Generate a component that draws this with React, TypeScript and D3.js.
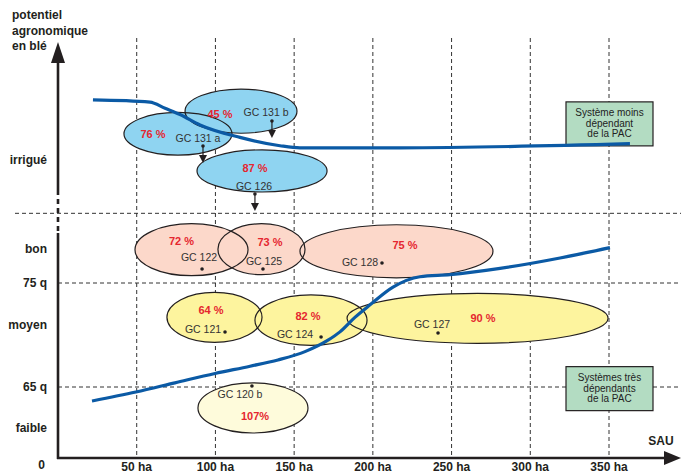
import { useEffect, useRef } from 'react';
import * as d3 from 'd3';

// SAU (ha) gridlines and tick labels
const sauTicks = [50, 100, 150, 200, 250, 300, 350];
const sauTickLabels = ['50 ha', '100 ha', '150 ha', '200 ha', '250 ha', '300 ha', '350 ha'];

// potentiel (q) reference lines
const potentielRefs = [65, 75];
const irrigueLimit = 81.7;

// y labels: [text, q]
const yLabelTexts = ['irrigué', 'bon', '75 q', 'moyen', '65 q', 'faible'];
const yLabelLevels = [86.8, 78.3, 75, 71, 65, 27.5];

// curves (ha, q)
const curveMoinsSau = [22.2, 58.4, 68.0, 77.5, 90.2, 115.6, 141.0, 153.7, 217.2, 363.3];
const curveMoinsQ = [92.6, 92.4, 91.8, 91.2, 90.2, 89.0, 88.2, 88.0, 88.0, 88.4];
const curveTresSau = [21.6, 49.5, 74.3, 99.7, 122.0, 139.7, 156.9, 171.5, 179.1, 188.6, 198.2, 212.8, 229.9, 249.0, 280.8, 318.9, 350.6];
const curveTresQ = [52.2, 60.4, 65.4, 66.3, 67.0, 67.6, 68.4, 69.5, 70.3, 71.7, 72.9, 74.6, 75.6, 75.8, 76.4, 77.4, 78.4];

// groupes de cas (GC)
const gcNames = ['GC 131 a', 'GC 131 b', 'GC 126', 'GC 122', 'GC 125', 'GC 128', 'GC 121', 'GC 124', 'GC 127', 'GC 120 b'];
const gcPct = ['76 %', '45 %', '87 %', '72 %', '73 %', '75 %', '64 %', '82 %', '90 %', '107%'];
const gcSauMin = [41.9, 80.7, 88.3, 48.9, 101.6, 153.7, 69.2, 125.1, 183.6, 88.9];
const gcSauMax = [110.5, 151.8, 170.9, 120.7, 156.9, 276.3, 129.6, 196.3, 349.4, 158.8];
const gcQMin = [87.3, 89.4, 83.75, 75.7, 75.8, 75.5, 69.3, 69.0, 69.2, 22.9];
const gcQMax = [91.4, 93.65, 87.8, 80.7, 80.7, 80.6, 74.1, 73.85, 74.0, 65.4];
const gcPointSau = [92.1, 135.9, 125.1, 91.5, 130.2, 205.8, 106.1, 167.1, 241.4, 123.2];
const gcPointQ = [88.17, 90.58, 83.56, 76.35, 76.35, 76.92, 70.29, 69.81, 70.19, 65.1];
const gcGroup = ['irr', 'irr', 'irr', 'bon', 'bon', 'bon', 'moy', 'moy', 'moy', 'fai'];
const gcArrow = [true, true, true, false, false, false, false, false, false, false];

// label layout (pixel offsets from ellipse centre)
const pctOffset: [number, number][] = [[-25, 0], [-21, 3], [-7, -3], [-10, -9], [8.5, -7.5], [8.5, -6.5], [-3.5, -7], [-3, -4], [5.5, 0], [2, 8]];
const nameOffset: [number, number][] = [[20, 4.5], [25, 1], [-8, 15], [7.5, 8], [2.5, 12.5], [-36.5, 11.5], [-11.5, 12], [-16, 14], [-45.5, 6], [-13, -14]];

const groupFill: Record<string, string> = {
    irr: '#8fd4f1',
    bon: '#fcd8ca',
    moy: '#fdf49e',
    fai: '#fefbdb',
};

const boxLines = [
    ['Système moins', 'dépendant', 'de la PAC'],
    ['Systèmes très', 'dépendants', 'de la PAC'],
];
const boxLevels = [90.3, 63.5];

export default function App() {
    const svgRef = useRef<SVGSVGElement>(null);

    useEffect(() => {
        if (!svgRef.current) return;
        document.body.style.margin = '0';
        const W = 681;
        const H = 475;
        const svg = d3.select(svgRef.current);
        svg.selectAll('*').remove();
        svg.attr('width', W).attr('height', H)
            .style('font-family', '"Liberation Sans", Arial, sans-serif');

        const x = d3.scaleLinear().domain([0, 350]).range([58, 609]);
        // schematic potential axis
        const y = d3.scaleLinear().domain([0, 65, 75]).range([458, 387, 283]);

        const ink = '#231f20';

        // grid
        const grid = svg.append('g').attr('stroke', '#333').attr('stroke-width', 1).attr('stroke-dasharray', '4,3');
        grid.selectAll('line.v').data(sauTicks).enter().append('line')
            .attr('x1', d => x(d)).attr('x2', d => x(d))
            .attr('y1', 38).attr('y2', 458);
        grid.selectAll('line.h').data(potentielRefs).enter().append('line')
            .attr('x1', 58).attr('x2', W)
            .attr('y1', d => y(d)).attr('y2', d => y(d));
        grid.append('line').attr('x1', 15).attr('x2', W)
            .attr('y1', y(irrigueLimit)).attr('y2', y(irrigueLimit));

        // boxes
        boxLines.forEach((lines, i) => {
            const cy = y(boxLevels[i]);
            const g = svg.append('g');
            g.append('rect').attr('x', 566).attr('y', cy - 22).attr('width', 87).attr('height', 44)
                .attr('fill', '#b3dcc2').attr('stroke', ink).attr('stroke-width', 1.2);
            lines.forEach((t, j) => {
                g.append('text').attr('x', 609.5).attr('y', cy - 11 + j * 10.5).attr('dy', '0.35em')
                    .attr('text-anchor', 'middle').attr('font-size', 10).attr('fill', '#222').text(t);
            });
        });

        // ellipses
        const gc = gcNames.map((name, i) => {
            const x0 = x(gcSauMin[i]);
            const x1 = x(gcSauMax[i]);
            const y0 = y(gcQMax[i]);
            const y1 = y(gcQMin[i]);
            return { name, i, cx: (x0 + x1) / 2, cy: (y0 + y1) / 2, rx: (x1 - x0) / 2, ry: (y1 - y0) / 2 };
        });

        svg.append('g').selectAll('ellipse').data(gc).enter().append('ellipse')
            .attr('cx', d => d.cx).attr('cy', d => d.cy).attr('rx', d => d.rx).attr('ry', d => d.ry)
            .attr('fill', d => groupFill[gcGroup[d.i]]);
        svg.append('g').selectAll('ellipse').data(gc).enter().append('ellipse')
            .attr('cx', d => d.cx).attr('cy', d => d.cy).attr('rx', d => d.rx).attr('ry', d => d.ry)
            .attr('fill', 'none').attr('stroke', ink).attr('stroke-width', 1.2);

        // points + arrows
        gc.forEach(d => {
            const px = x(gcPointSau[d.i]);
            const py = y(gcPointQ[d.i]);
            if (gcArrow[d.i]) {
                const len = 17;
                svg.append('line').attr('x1', px).attr('x2', px).attr('y1', py).attr('y2', py + len - 6)
                    .attr('stroke', ink).attr('stroke-width', 1.2);
                svg.append('path')
                    .attr('d', `M${px - 4},${py + len - 8}L${px + 4},${py + len - 8}L${px},${py + len}Z`)
                    .attr('fill', ink);
            }
            svg.append('circle').attr('cx', px).attr('cy', py).attr('r', 1.8).attr('fill', ink);
        });

        // labels
        const labels = svg.append('g');
        gc.forEach(d => {
            labels.append('text')
                .attr('x', d.cx + pctOffset[d.i][0]).attr('y', d.cy + pctOffset[d.i][1]).attr('dy', '0.35em')
                .attr('text-anchor', 'middle').attr('font-size', 11).attr('font-weight', 'bold')
                .attr('fill', '#e5262f').text(gcPct[d.i]);
            labels.append('text')
                .attr('x', d.cx + nameOffset[d.i][0]).attr('y', d.cy + nameOffset[d.i][1]).attr('dy', '0.35em')
                .attr('text-anchor', 'middle').attr('font-size', 10.5)
                .attr('fill', '#333').text(d.name);
        });

        // curves
        const line = d3.line<[number, number]>()
            .x(d => x(d[0])).y(d => y(d[1]))
            .curve(d3.curveMonotoneX);
        const curves = [
            d3.zip(curveMoinsSau, curveMoinsQ) as [number, number][],
            d3.zip(curveTresSau, curveTresQ) as [number, number][],
        ];
        svg.append('g').selectAll('path').data(curves).enter().append('path')
            .attr('d', d => line(d))
            .attr('fill', 'none').attr('stroke', '#0b5aa5').attr('stroke-width', 3.2)
            .attr('stroke-linecap', 'butt');

        // axes
        const axes = svg.append('g').attr('stroke', ink).attr('stroke-width', 2.6);
        axes.append('line').attr('x1', 58).attr('x2', 58).attr('y1', 62).attr('y2', 190);
        axes.append('line').attr('x1', 58).attr('x2', 58).attr('y1', 190).attr('y2', 233)
            .attr('stroke-dasharray', '5,4');
        axes.append('line').attr('x1', 58).attr('x2', 58).attr('y1', 233).attr('y2', 459);
        axes.append('line').attr('x1', 57).attr('x2', 666).attr('y1', 458).attr('y2', 458);
        svg.append('path').attr('d', 'M58,42L51,63L65,63Z').attr('fill', ink);
        svg.append('path').attr('d', 'M681,458L664,451L664,465Z').attr('fill', ink);

        // tick labels
        svg.append('g').selectAll('text').data(sauTicks).enter().append('text')
            .attr('x', d => x(d)).attr('y', 467).attr('dy', '0.35em')
            .attr('text-anchor', 'middle').attr('font-size', 12).attr('font-weight', 'bold')
            .attr('fill', ink).text((d, i) => sauTickLabels[i]);
        svg.append('g').selectAll('text').data(yLabelTexts).enter().append('text')
            .attr('x', 47).attr('y', (d, i) => y(yLabelLevels[i])).attr('dy', '0.35em')
            .attr('text-anchor', 'end').attr('font-size', 12).attr('font-weight', 'bold')
            .attr('fill', ink).text(d => d);
        svg.append('text').attr('x', 45).attr('y', 465).attr('dy', '0.35em')
            .attr('text-anchor', 'end').attr('font-size', 12).attr('font-weight', 'bold')
            .attr('fill', ink).text('0');
        svg.append('text').attr('x', 661).attr('y', 441).attr('dy', '0.35em')
            .attr('text-anchor', 'middle').attr('font-size', 12).attr('font-weight', 'bold')
            .attr('fill', ink).text('SAU');
        ['potentiel', 'agronomique', 'en blé'].forEach((t, i) => {
            svg.append('text').attr('x', 12).attr('y', 15 + i * 15.5).attr('dy', '0.35em')
                .attr('font-size', 12).attr('font-weight', 'bold').attr('fill', ink).text(t);
        });
    }, []);

    return (
        <div style={{ position: 'absolute', left: 0, top: 0 }}>
            <svg ref={svgRef} style={{ display: 'block' }} />
        </div>
    );
}
